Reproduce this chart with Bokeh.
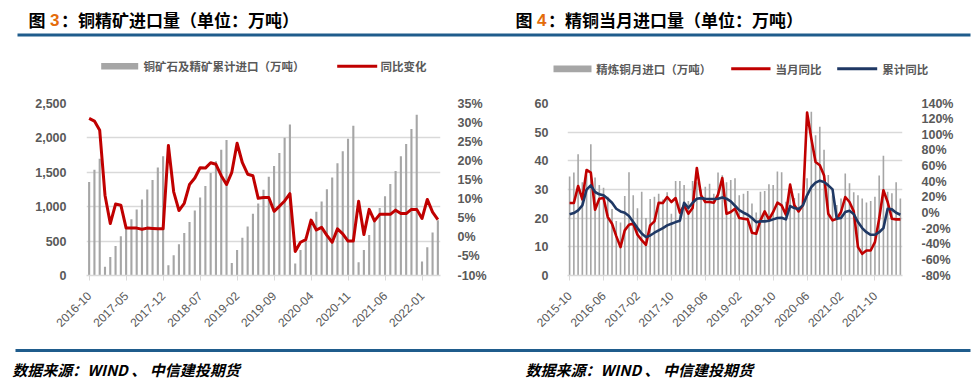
import numpy as np
from bokeh.plotting import figure
from bokeh.models import (Range1d, LinearAxis, FixedTicker, Label,
                          PrintfTickFormatter, NumeralTickFormatter)
from bokeh.layouts import row, column
from bokeh.embed import file_html
from bokeh.resources import INLINE

# ---------------- data: figure 3 (copper concentrate, cumulative imports, 2016-10 .. 2022-04)
ore_cum = [1358, 1537, 1697,
           127, 268, 428, 569, 714, 818, 959, 1105, 1250, 1387, 1570, 1734,
           150, 296, 456, 616, 776, 945, 1133, 1302, 1490, 1659, 1828, 1969,
           183, 371, 550, 714, 898, 1048, 1245, 1434, 1593, 1781, 2002, 2195,
           174, 371, 559, 747, 926, 1076, 1255, 1424, 1631, 1805, 1988, 2176,
           193, 371, 588, 823, 982, 1152, 1330, 1518, 1734, 1913, 2129, 2336,
           202, 409, 625, 804]
ore_yoy = [31.1, 30.4, 28.0,
           11.0, 3.6, 8.7, 8.4, 2.4, 2.4, 2.4, 2.1, 2.4, 2.3, 2.2, 2.2,
           24.0, 11.9, 7.0, 8.9, 13.8, 15.5, 18.2, 18.1, 19.5, 19.1, 16.1, 13.8,
           17.0, 24.6, 19.5, 16.5, 16.1, 10.2, 10.4, 10.4, 6.8, 8.1, 9.5, 11.4,
           -3.7, -1.3, -0.6, 4.5, 1.9, 2.6, 0.5, -1.3, 2.2, 0.9, -1.0, -1.0,
           9.4, 0.7, 7.3, 4.3, 6.0, 6.0, 6.0, 7.1, 6.2, 6.2, 7.3, 7.3,
           4.9, 9.9, 6.6, 4.6]
ore_tick_pos = [0, 7, 14, 21, 28, 35, 42, 49, 56, 63]
ore_tick_labels = ["2016-10", "2017-05", "2017-12", "2018-07", "2019-02",
                   "2019-09", "2020-04", "2020-11", "2021-06", "2022-01"]
ore_left_ticks = [0, 500, 1000, 1500, 2000, 2500]
ore_right_ticks = [-10, -5, 0, 5, 10, 15, 20, 25, 30, 35]

# ---------------- data: figure 4 (refined copper monthly imports, 2015-10 .. 2022-04)
cu_month = [34.5, 35.9, 42.3, 32.5, 35.0, 45.8, 34.2, 31.6, 30.6, 27.5,
            23.2, 19.0, 18.5, 27.7, 36.0, 28.0, 23.5, 29.2, 20.1, 26.7,
            27.5, 28.5, 26.5, 29.0, 21.5, 33.0, 33.0, 31.6, 26.0, 33.0,
            32.5, 30.0, 31.0, 32.0, 28.5, 35.9, 35.0, 32.5, 33.3, 33.9,
            28.0, 28.5, 29.5, 25.1, 22.0, 29.2, 29.5, 31.8, 31.6, 36.3,
            36.0, 25.7, 29.8, 27.0, 28.7, 25.7, 33.9, 57.1, 48.9, 51.9,
            43.9, 35.1, 28.0, 24.6, 26.9, 35.6, 32.2, 29.0, 28.0, 26.9,
            25.5, 26.0, 27.5, 34.9, 41.8, 29.2, 28.7, 32.5, 26.9]
cu_month_yoy = [12.7, 12.7, 34.5, 17.4, 55.0, 51.6, 4.1, 18.2, 19.1, -5.3,
                -13.8, -29.6, -43.7, -22.3, -15.1, -13.4, -27.9, -34.7, -40.7, -15.9,
                -10.8, 13.1, 12.7, 20.4, 14.0, 19.1, 0.3, 9.7, -1.0, 6.3,
                57.5, 22.5, 14.0, 14.0, 13.1, 23.4, 44.7, -1.0, 1.2, 5.4,
                -6.5, -7.4, -8.2, -25.3, -26.6, -9.5, 2.0, -8.2, 1.2, 13.1,
                9.7, -2.3, 36.2, 9.7, 2.0, 9.7, 128.5, 95.0, 65.2, 60.9,
                48.0, -1.0, -9.5, -7.4, 1.2, 20.4, 14.0, 2.0, -43.7, -52.3,
                -48.0, -48.0, -37.3, -7.4, 29.0, 14.0, -7.4, -8.2, -8.2]
cu_cum_yoy = [-1.8, -0.1, 3.3, 9.7, 29.8, 35.3, 26.8, 23.8, 22.5, 18.2,
              13.1, 5.4, 2.0, 0.3, -4.0, -11.7, -19.4, -26.2, -30.9, -28.8,
              -25.3, -22.3, -19.4, -15.9, -13.8, -11.7, -10.0, 13.1, 6.3, 13.0,
              18.2, 19.0, 18.2, 17.8, 17.8, 18.2, 19.9, 18.2, 14.8, 9.2,
              3.7, 0.3, -2.3, -6.5, -11.7, -10.8, -10.8, -10.0, -8.2, -6.5,
              -6.1, -8.2, 8.8, 6.3, 5.0, 9.7, 22.5, 33.2, 38.8, 41.3,
              39.6, 35.3, 30.2, -7.4, -6.5, 1.2, 2.9, -1.4, -11.7, -19.4,
              -24.6, -27.9, -27.9, -24.6, -19.4, 5.4, 4.6, 0.3, -2.3]
cu_tick_pos = [0, 8, 16, 24, 32, 40, 48, 56, 64, 72]
cu_tick_labels = ["2015-10", "2016-06", "2017-02", "2017-10", "2018-06",
                  "2019-02", "2019-10", "2020-06", "2021-02", "2021-10"]
cu_left_ticks = [0, 10, 20, 30, 40, 50, 60]
cu_right_ticks = [-80, -60, -40, -20, 0, 20, 40, 60, 80, 100, 120, 140]

# ---------------- style
CJK = "Noto Sans CJK SC"
NUM = "Liberation Sans"
AX_COLOR = "#595959"
GRID = "#D9D9D9"
BAR = "#A6A6A6"
RED = "#C00000"
NAVY = "#1F3864"
RULE = "#1F5C8C"
ORANGE = "#E46C0A"
W = 978
HALF = 489
HEAD_H, CHART_H, FOOT_H = 85, 255, 43


def blank(height):
    p = figure(width=W, height=height, output_backend="svg", toolbar_location=None,
               x_range=Range1d(0, W), y_range=Range1d(height, 0),
               min_border=0, outline_line_color=None, background_fill_color="white",
               border_fill_color="white")
    p.axis.visible = False
    p.grid.visible = False
    return p


def txt(p, x, y, text, size, color="black", style="bold", font=CJK):
    p.add_layout(Label(x=x, y=y, text=text, text_font=font, text_font_size=size,
                       text_font_style=style, text_color=color,
                       text_baseline="middle", text_align="left"))


def box(p, l, r, t, b, color):
    p.quad(left=[l], right=[r], top=[t], bottom=[b], fill_color=color, line_color=None)


def style_axes(p, xaxis_ticks, xaxis_labels, left_ticks, left_fmt, right_axis,
               left_standoff, right_standoff):
    xa = p.xaxis[0]
    xa.ticker = FixedTicker(ticks=xaxis_ticks)
    xa.major_label_overrides = {t: l for t, l in zip(xaxis_ticks, xaxis_labels)}
    xa.major_label_orientation = np.pi / 4
    xa.axis_line_color = GRID
    xa.axis_line_width = 1.5
    xa.major_tick_line_color = GRID
    xa.major_tick_in = 0
    xa.major_tick_out = 5
    xa.minor_tick_line_color = None
    xa.major_label_text_font = NUM
    xa.major_label_text_font_size = "12px"
    xa.major_label_text_color = AX_COLOR
    xa.major_label_standoff = 13

    ya = p.yaxis[0]
    ya.ticker = FixedTicker(ticks=left_ticks)
    ya.formatter = left_fmt
    ya.axis_line_color = None
    ya.major_tick_line_color = None
    ya.minor_tick_line_color = None
    ya.major_label_text_font = NUM
    ya.major_label_text_font_size = "12.5px"
    ya.major_label_text_font_style = "bold"
    ya.major_label_text_color = AX_COLOR
    ya.major_label_standoff = left_standoff

    right_axis.axis_line_color = None
    right_axis.major_tick_line_color = None
    right_axis.minor_tick_line_color = None
    right_axis.major_label_text_font = NUM
    right_axis.major_label_text_font_size = "12.5px"
    right_axis.major_label_text_font_style = "bold"
    right_axis.major_label_text_color = AX_COLOR
    right_axis.major_label_standoff = right_standoff
    p.add_layout(right_axis, "right")

    p.xgrid.grid_line_color = None
    p.ygrid.ticker = FixedTicker(ticks=left_ticks)
    p.ygrid.grid_line_color = GRID
    p.ygrid.grid_line_width = 1.5


# ================= header (titles, rules, legends)
head = blank(HEAD_H)
txt(head, 28, 19, "图", "17px")
txt(head, 49.5, 19, "3", "17px", color=ORANGE, font=NUM)
txt(head, 60.5, 19, "：铜精矿进口量（单位：万吨）", "17px")
txt(head, 515, 19, "图", "17px")
txt(head, 536.5, 19, "4", "17px", color=ORANGE, font=NUM)
txt(head, 547.5, 19, "：精铜当月进口量（单位：万吨）", "17px")
box(head, 17, 970, 33, 36, RULE)
# legend of figure 3
box(head, 100.7, 137.7, 62.5, 69, BAR)
txt(head, 143, 65.7, "铜矿石及精矿累计进口（万吨）", "11.5px", color=AX_COLOR)
box(head, 336.7, 376.7, 64.2, 67.2, RED)
txt(head, 380, 65.7, "同比变化", "11.5px", color=AX_COLOR)
# legend of figure 4
box(head, 553, 591, 65, 71.7, BAR)
txt(head, 595.7, 68.3, "精炼铜月进口（万吨）", "11.5px", color=AX_COLOR)
box(head, 730.7, 770, 66.8, 69.8, RED)
txt(head, 775, 68.3, "当月同比", "11.5px", color=AX_COLOR)
box(head, 836.7, 876.7, 66.8, 69.8, NAVY)
txt(head, 881.7, 68.3, "累计同比", "11.5px", color=AX_COLOR)

# ================= figure 3
n1 = len(ore_cum)
x1 = np.arange(n1)
p1 = figure(width=HALF, height=CHART_H, output_backend="svg", toolbar_location=None,
            x_range=Range1d(-0.5, n1 - 0.5), y_range=Range1d(0, 2500),
            min_border_left=86, min_border_right=48, min_border_top=16, min_border_bottom=61,
            outline_line_color=None, background_fill_color="white", border_fill_color="white")
p1.extra_y_ranges = {"pct": Range1d(-10, 35)}
p1.vbar(x=x1, top=ore_cum, width=0.4, fill_color=BAR, line_color=None)
p1.line(x=x1, y=ore_yoy, y_range_name="pct", line_color=RED, line_width=3,
        line_join="round")
ra1 = LinearAxis(y_range_name="pct", ticker=FixedTicker(ticks=ore_right_ticks),
                 formatter=PrintfTickFormatter(format="%d%%"))
style_axes(p1, ore_tick_pos, ore_tick_labels, ore_left_ticks,
           NumeralTickFormatter(format="0,0"), ra1, 14, 11)

# ================= figure 4
n2 = len(cu_month)
x2 = np.arange(n2)
p2 = figure(width=HALF, height=CHART_H, output_backend="svg", toolbar_location=None,
            x_range=Range1d(-0.5, n2 - 0.5), y_range=Range1d(0, 60),
            min_border_left=78, min_border_right=76, min_border_top=18, min_border_bottom=65,
            outline_line_color=None, background_fill_color="white", border_fill_color="white")
p2.extra_y_ranges = {"pct": Range1d(-80, 140)}
p2.vbar(x=x2, top=cu_month, width=0.38, fill_color=BAR, line_color=None)
p2.line(x=x2, y=cu_month_yoy, y_range_name="pct", line_color=RED, line_width=2.6,
        line_join="round")
p2.line(x=x2, y=cu_cum_yoy, y_range_name="pct", line_color=NAVY, line_width=2.6,
        line_join="round")
ra2 = LinearAxis(y_range_name="pct", ticker=FixedTicker(ticks=cu_right_ticks),
                 formatter=PrintfTickFormatter(format="%d%%"))
style_axes(p2, cu_tick_pos, cu_tick_labels, cu_left_ticks,
           NumeralTickFormatter(format="0"), ra2, 13, 13)

# ================= footer (rule and sources)
foot = blank(FOOT_H)
box(foot, 15, 970, 8.5, 11.5, RULE)
txt(foot, 11.7, 29, "数据来源：WIND 、 中信建投期货", "15px", style="bold italic")
txt(foot, 525, 29, "数据来源：WIND 、 中信建投期货", "15px", style="bold italic")

layout = column(head, row(p1, p2), foot)
open("out.html", "w").write(file_html(layout, INLINE))
